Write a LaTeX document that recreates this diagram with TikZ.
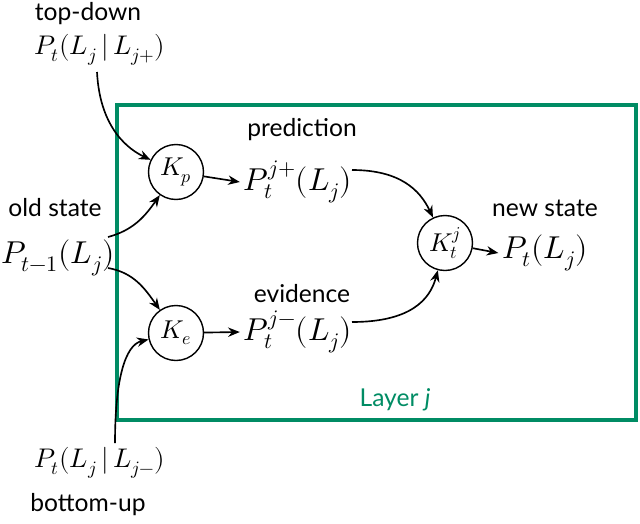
\documentclass[tikz,border=0pt]{standalone}
\usepackage{fontspec}
\setmainfont{Lato}
\usepackage{unicode-math}
\setmathfont{Latin Modern Math}
\usetikzlibrary{arrows.meta}
\definecolor{lg}{RGB}{0,140,100}
\begin{document}
\begin{tikzpicture}[x=0.03cm,y=-0.03cm,
  lab/.style={font=\fontsize{21}{23}\selectfont},
  big/.style={font=\fontsize{27}{30}\selectfont},
  mid/.style={font=\fontsize{23}{25}\selectfont},
  kc/.style={circle,draw,line width=1.2pt,minimum size=1.65cm,inner sep=0pt,font=\fontsize{22}{24}\selectfont},
  ar/.style={line width=1.4pt,-{Stealth[length=10pt,width=8pt]}}]
\useasboundingbox (0,0) rectangle (640,523);
\draw[lg,line width=3pt] (117,105) rectangle (636,420);
\node[lab,text=lg] (layer) at (395,400) {Layer \textit{j}};
\node[lab] (td) at (88,14) {top-down};
\node[mid] (ptd) at (100,50) {$P_t(L_j\,|\,L_{j+})$};
\node[lab] (os) at (55,208) {old state};
\node[big] (old) at (58,258) {$P_{t-1}(L_j)$};
\node[kc] (kp) at (176,172) {$K_p$};
\node[kc] (ke) at (176,333) {$K_e$};
\node[kc] (kt) at (445,243) {$K_t^j$};
\node[lab] (pr) at (302,130) {prediction};
\node[big] (pp) at (298,182) {$P_t^{j+}(L_j)$};
\node[lab] (ev) at (302,294) {evidence};
\node[big] (pe) at (298,332) {$P_t^{j-}(L_j)$};
\node[lab] (ns) at (545,208) {new state};
\node[big] (pn) at (545,253) {$P_t(L_j)$};
\node[mid] (pbu) at (100,463) {$P_t(L_j\,|\,L_{j-})$};
\node[lab] (bu) at (88,505) {bottom-up};
\draw[ar] (97,72) .. controls (100,130) and (130,150) .. (kp);
\draw[ar] (108,237) to[out=15,in=235] (kp);
\draw[ar] (108,268) to[out=-10,in=125] (ke);
\draw[ar] (115,443) .. controls (115,380) and (125,345) .. (ke);
\draw[ar] (kp) -- (pp.west);
\draw[ar] (ke) -- (pe.west);
\draw[ar] (352,170) .. controls (400,170) and (420,190) .. (kt);
\draw[ar] (352,322) .. controls (410,322) and (430,300) .. (kt);
\draw[ar] (kt) -- (pn.west);
\end{tikzpicture}
\end{document}
